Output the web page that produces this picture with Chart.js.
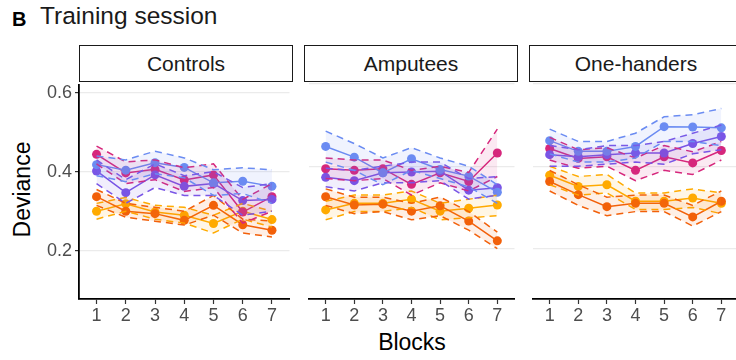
<!DOCTYPE html>
<html>
<head>
<meta charset="utf-8">
<script src="https://cdn.jsdelivr.net/npm/chart.js@4"></script>
<style>
  body { margin: 0; width: 736px; height: 360px; overflow: hidden; background: #fff;
         font-family: "Liberation Sans", Arial, sans-serif; position: relative; }
  .abs { position: absolute; }
  .strip { position: absolute; top: 45px; height: 35px; border: 1.5px solid #1a1a1a; background: #fff;
           font-size: 21px; color: #1a1a1a; text-align: center; line-height: 36px; }
  canvas { position: absolute; }
</style>
</head>
<body>
<div class="abs" style="left:12px;top:8px;font-size:20px;font-weight:bold;">B</div>
<div class="abs" style="left:40px;top:2px;font-size:24.5px;color:#1a1a1a;">Training session</div>
<div class="strip" style="left:79px;width:212px;">Controls</div>
<div class="strip" style="left:304px;width:212px;">Amputees</div>
<div class="strip" style="left:529px;width:212px;">One-handers</div>
<div class="abs" style="left:-28px;top:176px;width:100px;text-align:center;font-size:23px;transform:rotate(-90deg);color:#000;">Deviance</div>
<div class="abs" style="left:362px;top:329px;width:100px;text-align:center;font-size:23px;color:#000;">Blocks</div>

<canvas id="c0" style="left:0px;top:71px;" width="294" height="262"></canvas>
<canvas id="c1" style="left:304px;top:71px;" width="215" height="262"></canvas>
<canvas id="c2" style="left:528px;top:71px;" width="215" height="262"></canvas>

<script>
// blocks and groups
const blocks = [1, 2, 3, 4, 5, 6, 7];
const panels = ["Controls", "Amputees", "One-handers"];
const seriesColors = ["#6b8cf2", "#7a55e6", "#d6277c", "#f2600a", "#ffab00"];
const yTicks = [0.2, 0.4, 0.6];

// Controls: mean, upper, lower per series (blue, violet, magenta, orange, amber)
const ctrlBlue = [0.418, 0.404, 0.423, 0.411, 0.372, 0.376, 0.363];
const ctrlBlueHi = [0.440, 0.430, 0.452, 0.435, 0.405, 0.410, 0.405];
const ctrlBlueLo = [0.390, 0.375, 0.395, 0.385, 0.340, 0.345, 0.320];
const ctrlViolet = [0.402, 0.347, 0.392, 0.363, 0.370, 0.327, 0.330];
const ctrlVioletHi = [0.430, 0.380, 0.420, 0.390, 0.400, 0.360, 0.370];
const ctrlVioletLo = [0.370, 0.320, 0.360, 0.340, 0.340, 0.290, 0.300];
const ctrlMagenta = [0.444, 0.397, 0.406, 0.379, 0.392, 0.298, 0.337];
const ctrlMagentaHi = [0.465, 0.425, 0.430, 0.410, 0.420, 0.330, 0.370];
const ctrlMagentaLo = [0.420, 0.370, 0.380, 0.350, 0.360, 0.270, 0.300];
const ctrlOrange = [0.337, 0.300, 0.294, 0.277, 0.315, 0.266, 0.252];
const ctrlOrangeHi = [0.355, 0.320, 0.310, 0.300, 0.340, 0.280, 0.275];
const ctrlOrangeLo = [0.315, 0.285, 0.275, 0.265, 0.290, 0.245, 0.235];
const ctrlAmber = [0.300, 0.319, 0.298, 0.290, 0.269, 0.300, 0.279];
const ctrlAmberHi = [0.320, 0.335, 0.315, 0.310, 0.290, 0.320, 0.300];
const ctrlAmberLo = [0.280, 0.300, 0.280, 0.270, 0.245, 0.280, 0.260];

// Amputees
const ampBlue = [0.448, 0.422, 0.384, 0.418, 0.392, 0.376, 0.337];
const ampBlueHi = [0.485, 0.455, 0.420, 0.445, 0.420, 0.400, 0.355];
const ampBlueLo = [0.410, 0.390, 0.355, 0.390, 0.370, 0.350, 0.310];
const ampViolet = [0.373, 0.365, 0.384, 0.386, 0.388, 0.342, 0.348];
const ampVioletHi = [0.395, 0.390, 0.400, 0.410, 0.410, 0.370, 0.375];
const ampVioletLo = [0.350, 0.340, 0.360, 0.360, 0.365, 0.320, 0.330];
const ampMagenta = [0.394, 0.390, 0.394, 0.356, 0.384, 0.363, 0.432];
const ampMagentaHi = [0.420, 0.415, 0.415, 0.390, 0.400, 0.385, 0.490];
const ampMagentaLo = [0.370, 0.365, 0.370, 0.330, 0.360, 0.340, 0.375];
const ampOrange = [0.326, 0.306, 0.308, 0.291, 0.304, 0.267, 0.219];
const ampOrangeHi = [0.345, 0.325, 0.325, 0.310, 0.325, 0.290, 0.240];
const ampOrangeLo = [0.305, 0.285, 0.290, 0.270, 0.280, 0.245, 0.200];
const ampAmber = [0.294, 0.310, 0.310, 0.320, 0.291, 0.298, 0.306];
const ampAmberHi = [0.315, 0.330, 0.330, 0.340, 0.310, 0.320, 0.330];
const ampAmberLo = [0.270, 0.290, 0.290, 0.300, 0.270, 0.275, 0.280];

// One-handers
const oneBlue = [0.462, 0.436, 0.436, 0.448, 0.496, 0.495, 0.493];
const oneBlueHi = [0.490, 0.460, 0.460, 0.480, 0.520, 0.525, 0.540];
const oneBlueLo = [0.430, 0.410, 0.410, 0.420, 0.460, 0.460, 0.450];
const oneViolet = [0.428, 0.423, 0.428, 0.432, 0.432, 0.455, 0.472];
const oneVioletHi = [0.450, 0.440, 0.450, 0.450, 0.460, 0.480, 0.500];
const oneVioletLo = [0.400, 0.400, 0.405, 0.410, 0.405, 0.430, 0.440];
const oneMagenta = [0.443, 0.419, 0.423, 0.390, 0.423, 0.408, 0.438];
const oneMagentaHi = [0.470, 0.440, 0.445, 0.420, 0.450, 0.435, 0.460];
const oneMagentaLo = [0.415, 0.395, 0.400, 0.365, 0.390, 0.380, 0.415];
const oneOrange = [0.363, 0.331, 0.302, 0.310, 0.310, 0.277, 0.315];
const oneOrangeHi = [0.390, 0.355, 0.325, 0.330, 0.330, 0.305, 0.340];
const oneOrangeLo = [0.340, 0.305, 0.280, 0.290, 0.290, 0.255, 0.290];
const oneAmber = [0.378, 0.351, 0.355, 0.315, 0.315, 0.323, 0.310];
const oneAmberHi = [0.400, 0.375, 0.380, 0.335, 0.335, 0.345, 0.335];
const oneAmberLo = [0.355, 0.330, 0.335, 0.295, 0.295, 0.300, 0.285];

const panelData = [
  [[ctrlBlue, ctrlBlueHi, ctrlBlueLo], [ctrlViolet, ctrlVioletHi, ctrlVioletLo],
   [ctrlMagenta, ctrlMagentaHi, ctrlMagentaLo], [ctrlOrange, ctrlOrangeHi, ctrlOrangeLo],
   [ctrlAmber, ctrlAmberHi, ctrlAmberLo]],
  [[ampBlue, ampBlueHi, ampBlueLo], [ampViolet, ampVioletHi, ampVioletLo],
   [ampMagenta, ampMagentaHi, ampMagentaLo], [ampOrange, ampOrangeHi, ampOrangeLo],
   [ampAmber, ampAmberHi, ampAmberLo]],
  [[oneBlue, oneBlueHi, oneBlueLo], [oneViolet, oneVioletHi, oneVioletLo],
   [oneMagenta, oneMagentaHi, oneMagentaLo], [oneOrange, oneOrangeHi, oneOrangeLo],
   [oneAmber, oneAmberHi, oneAmberLo]]
];

function pts(vals) {
  return blocks.map((b, i) => ({ x: b, y: vals[i] }));
}
function alpha(hex, a) {
  const n = parseInt(hex.slice(1), 16);
  return `rgba(${n >> 16},${(n >> 8) & 255},${n & 255},${a})`;
}

function buildDatasets(series) {
  const ds = [];
  // bands first: lower then upper filled to lower
  series.forEach((s, k) => {
    const c = seriesColors[k];
    const lowIdx = ds.length;
    ds.push({ data: pts(s[2]), borderColor: c, borderWidth: 1.5, borderDash: [7, 5],
              pointRadius: 0, fill: false, tension: 0 });
    ds.push({ data: pts(s[1]), borderColor: c, borderWidth: 1.5, borderDash: [7, 5],
              pointRadius: 0, fill: lowIdx, backgroundColor: alpha(c, 0.1), tension: 0 });
  });
  series.forEach((s, k) => {
    const c = seriesColors[k];
    ds.push({ data: pts(s[0]), borderColor: c, borderWidth: 1.5, pointRadius: 4.5,
              pointBackgroundColor: c, pointBorderWidth: 0, fill: false, tension: 0 });
  });
  return ds;
}

panels.forEach((name, p) => {
  const first = p === 0;
  new Chart(document.getElementById("c" + p), {
    type: "line",
    data: { datasets: buildDatasets(panelData[p]) },
    options: {
      responsive: false,
      animation: false,
      layout: { padding: 0 },
      plugins: { legend: { display: false }, tooltip: { enabled: false } },
      scales: {
        x: {
          type: "linear", min: 0.4, max: 7.6,
          afterBuildTicks: s => { s.ticks = blocks.map(v => ({ value: v })); },
          afterFit: s => { s.height = 34; },
          border: { display: true, color: "#000", width: 1.8 },
          grid: { drawOnChartArea: false, drawTicks: true, tickLength: 5, color: "#333", tickWidth: 1.2 },
          ticks: { color: "#4d4d4d", font: { size: 18, family: "Liberation Sans" }, padding: 1, maxRotation: 0 }
        },
        y: {
          min: 0.078, max: 0.62,
          afterBuildTicks: s => { s.ticks = yTicks.map(v => ({ value: v })); },
          afterFit: s => { s.width = first ? 79 : 0; },
          border: { display: first, color: "#000", width: 1.8 },
          grid: { color: "#ebebeb", lineWidth: 1.2, drawTicks: first, tickLength: 4, tickColor: "#333" },
          ticks: { display: first, color: "#4d4d4d", font: { size: 18, family: "Liberation Sans" },
                   padding: 3, callback: v => v.toFixed(1) }
        }
      }
    }
  });
});
</script>
</body>
</html>
